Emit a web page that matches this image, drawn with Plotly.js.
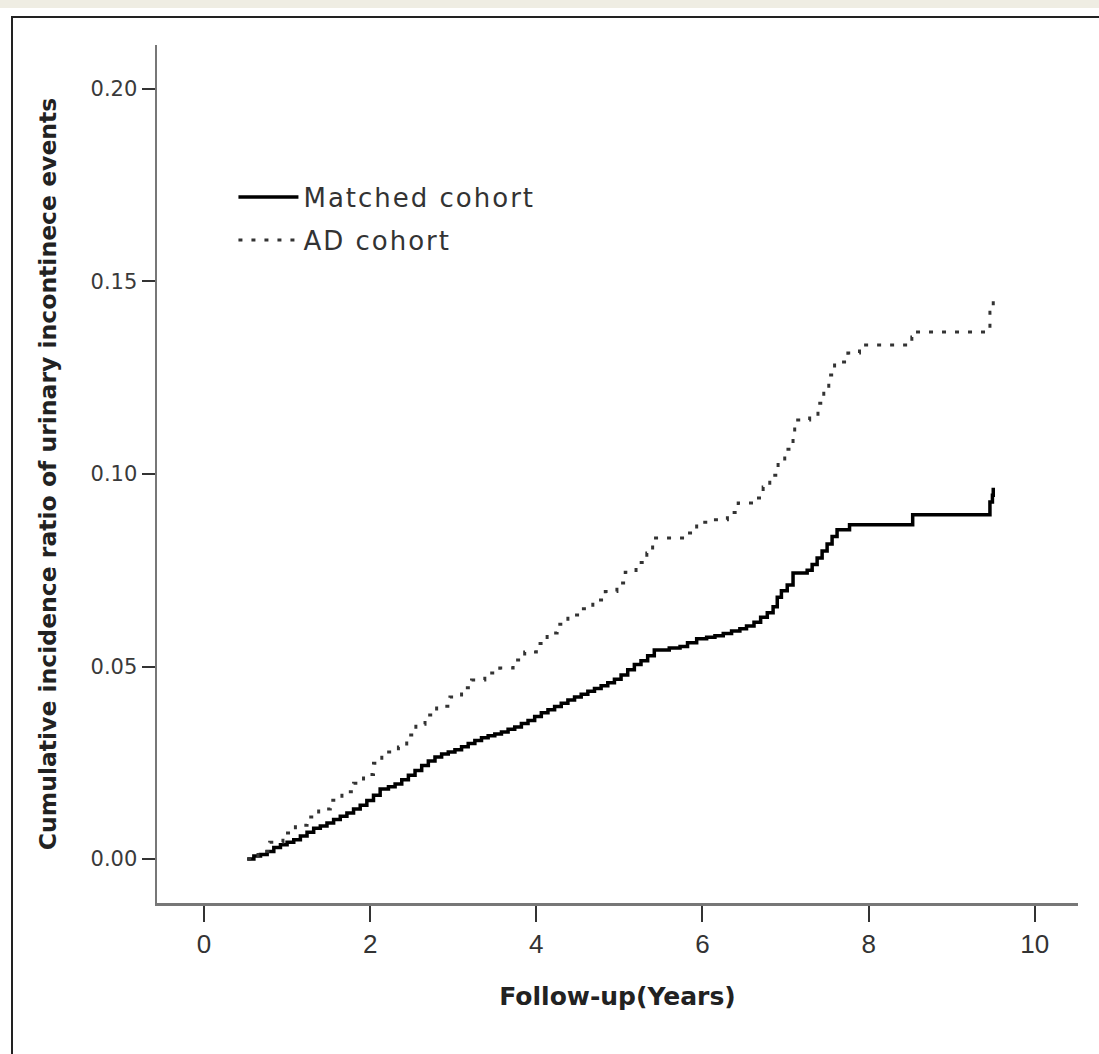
<!DOCTYPE html>
<html>
<head>
<meta charset="utf-8">
<script src="https://cdn.plot.ly/plotly-3.0.1.min.js"></script>
<style>
  html, body { margin: 0; padding: 0; background: #ffffff; overflow: hidden; }
  #strip { position: absolute; left: 0; top: 0; width: 1099px; height: 8px; background: #efede3; }
  #frame { position: absolute; left: 11px; top: 16px; width: 1200px; height: 1200px; border: 2px solid #222; box-sizing: border-box; }
  #chart { position: absolute; left: 0; top: 0; width: 1099px; height: 1054px; }
  .legendtext { letter-spacing: 2px; }
</style>
</head>
<body>
<div id="strip"></div>
<div id="frame"></div>
<div id="chart"></div>
<script>
// Matched cohort (solid step curve)
const matchedYears = [0.52, 0.60, 0.68, 0.76, 0.84, 0.92, 1.00, 1.08, 1.16, 1.24, 1.32, 1.40, 1.48, 1.56, 1.64, 1.72, 1.80, 1.88, 1.96, 2.04, 2.12, 2.22, 2.30, 2.38, 2.46, 2.54, 2.62, 2.70, 2.78, 2.86, 2.94, 3.02, 3.10, 3.18, 3.26, 3.34, 3.42, 3.50, 3.58, 3.66, 3.74, 3.82, 3.90, 3.98, 4.06, 4.14, 4.22, 4.30, 4.38, 4.46, 4.54, 4.62, 4.70, 4.78, 4.86, 4.94, 5.02, 5.10, 5.18, 5.26, 5.34, 5.42, 5.60, 5.73, 5.82, 5.93, 6.05, 6.15, 6.25, 6.35, 6.45, 6.53, 6.62, 6.70, 6.78, 6.85, 6.90, 6.95, 7.02, 7.09, 7.26, 7.32, 7.38, 7.44, 7.50, 7.56, 7.62, 7.77, 8.53, 9.46, 9.49, 9.50];
const matchedIncidence = [0.0000, 0.0008, 0.0012, 0.0020, 0.0030, 0.0037, 0.0044, 0.0050, 0.0060, 0.0070, 0.0080, 0.0086, 0.0094, 0.0103, 0.0111, 0.0120, 0.0130, 0.0140, 0.0152, 0.0166, 0.0182, 0.0188, 0.0195, 0.0206, 0.0218, 0.0230, 0.0243, 0.0255, 0.0265, 0.0273, 0.0278, 0.0284, 0.0292, 0.0300, 0.0308, 0.0315, 0.0320, 0.0325, 0.0330, 0.0337, 0.0343, 0.0352, 0.0360, 0.0370, 0.0380, 0.0388, 0.0396, 0.0405, 0.0413, 0.0421, 0.0428, 0.0436, 0.0443, 0.0450, 0.0458, 0.0467, 0.0478, 0.0492, 0.0505, 0.0515, 0.0528, 0.0543, 0.0548, 0.0552, 0.0562, 0.0572, 0.0576, 0.0580, 0.0586, 0.0592, 0.0598, 0.0605, 0.0615, 0.0628, 0.0640, 0.0655, 0.0680, 0.0697, 0.0712, 0.0743, 0.0750, 0.0765, 0.0782, 0.0800, 0.0818, 0.0838, 0.0855, 0.0868, 0.0894, 0.0927, 0.0945, 0.0964];

// AD cohort (dotted step curve)
const adYears = [0.52, 0.65, 0.79, 0.95, 1.10, 1.24, 1.38, 1.52, 1.66, 1.80, 1.92, 2.04, 2.14, 2.34, 2.44, 2.55, 2.66, 2.80, 2.96, 3.10, 3.22, 3.38, 3.56, 3.72, 3.86, 4.00, 4.13, 4.25, 4.38, 4.53, 4.68, 4.83, 4.97, 5.07, 5.20, 5.33, 5.40, 5.81, 5.93, 6.13, 6.30, 6.43, 6.61, 6.73, 6.81, 6.91, 6.99, 7.09, 7.11, 7.29, 7.39, 7.46, 7.52, 7.59, 7.75, 7.89, 8.52, 8.55, 9.46, 9.50];
const adIncidence = [0.0, 0.0020, 0.0044, 0.0068, 0.0088, 0.0109, 0.0130, 0.0153, 0.0175, 0.0197, 0.0220, 0.0249, 0.0278, 0.0291, 0.0322, 0.0350, 0.0374, 0.0397, 0.0421, 0.0445, 0.0465, 0.0483, 0.0496, 0.0517, 0.0538, 0.0560, 0.0587, 0.0610, 0.0634, 0.0650, 0.0673, 0.0695, 0.0717, 0.0745, 0.0770, 0.0795, 0.0834, 0.0847, 0.0875, 0.0881, 0.0900, 0.0925, 0.0938, 0.0966, 0.0997, 0.1031, 0.1064, 0.1096, 0.1140, 0.1151, 0.1184, 0.1220, 0.1257, 0.1291, 0.1314, 0.1335, 0.1356, 0.1369, 0.1420, 0.1470];

const seriesNames = ["Matched cohort", "AD cohort"];
const xTickValues = [0, 2, 4, 6, 8, 10];
const yTickValues = [0.00, 0.05, 0.10, 0.15, 0.20];
const xTitle = "Follow-up(Years)";
const yTitle = "Cumulative incidence ratio of urinary incontinece events";

const traces = [
  {
    x: matchedYears, y: matchedIncidence, name: seriesNames[0],
    type: "scatter", mode: "lines", legendgroup: "a",
    line: { shape: "hv", color: "#000000", width: 3.5 }
  },
  {
    x: adYears, y: adIncidence, name: seriesNames[1],
    type: "scatter", mode: "lines", legendgroup: "b",
    line: { shape: "hv", color: "#333333", width: 3, dash: "4px,9px" }
  }
];

const layout = {
  width: 1099, height: 1054,
  margin: { l: 157, r: 21, t: 45, b: 151 },
  paper_bgcolor: "rgba(0,0,0,0)",
  plot_bgcolor: "rgba(0,0,0,0)",
  showlegend: true,
  legend: {
    x: 0.083, y: 0.85, xanchor: "left", yanchor: "top",
    bgcolor: "rgba(0,0,0,0)", borderwidth: 0,
    font: { family: "DejaVu Sans", size: 26, color: "#333333" },
    itemwidth: 60, tracegroupgap: 6, traceorder: "grouped"
  },
  xaxis: {
    range: [-0.566, 10.52],
    tickvals: xTickValues,
    ticktext: xTickValues.map(String),
    ticks: "outside", ticklen: 16, tickwidth: 2, tickcolor: "#333333",
    showline: true, linecolor: "#777777", linewidth: 2.5,
    showgrid: false, zeroline: false,
    tickfont: { family: "Liberation Sans", size: 26, color: "#333333" },
    title: { text: xTitle, standoff: 30, font: { family: "DejaVu Sans", size: 25, color: "#222222", weight: 700 } }
  },
  yaxis: {
    range: [-0.0114, 0.2114],
    tickvals: yTickValues,
    tickformat: ".2f",
    ticks: "outside", ticklen: 13, tickwidth: 2, tickcolor: "#333333",
    showline: true, linecolor: "#777777", linewidth: 2.5,
    showgrid: false, zeroline: false,
    tickfont: { family: "DejaVu Sans", size: 21, color: "#3a3a3a" },
    title: { text: yTitle, standoff: 28, font: { family: "DejaVu Sans", size: 23.5, color: "#222222", weight: 700 } }
  }
};

Plotly.newPlot("chart", traces, layout, { staticPlot: true, displayModeBar: false });
</script>
</body>
</html>
